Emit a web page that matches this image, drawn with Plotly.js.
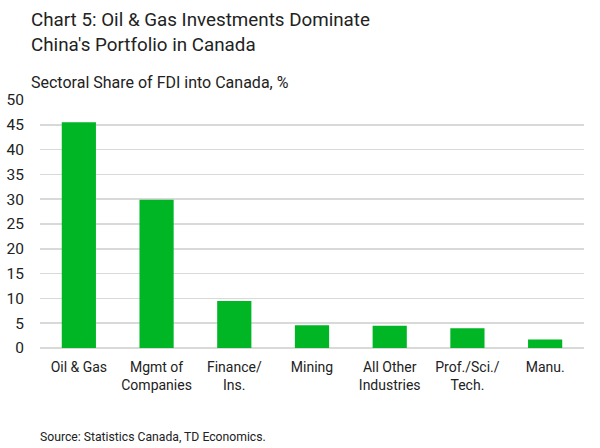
<!DOCTYPE html>
<html>
<head>
<meta charset="utf-8">
<script src="https://cdn.plot.ly/plotly-3.0.1.min.js"></script>
<style>html,body{margin:0;padding:0;background:#fff;}#chart{width:600px;height:448px;}</style>
</head>
<body>
<div id="chart"></div>
<script>
const categories = ["Oil & Gas", "Mgmt of<br>Companies", "Finance/<br>Ins.", "Mining", "All Other<br>Industries", "Prof./Sci./<br>Tech.", "Manu."];
const shares = [45.5, 29.9, 9.5, 4.6, 4.5, 4.0, 1.7];
const yTicks = [0, 5, 10, 15, 20, 25, 30, 35, 40, 45, 50];

const FONT = "Roboto, 'Noto Sans', sans-serif";
const data = [{
  type: "bar",
  x: categories,
  y: shares,
  marker: {color: "#00B624", line: {width: 0}},
  hoverinfo: "x+y"
}];
const layout = {
  width: 600, height: 448,
  margin: {l: 40, r: 16, t: 100, b: 100},
  paper_bgcolor: "#fff", plot_bgcolor: "#fff",
  bargap: 0.56,
  showlegend: false,
  font: {family: FONT, color: "#222"},
  xaxis: {
    type: "category",
    tickfont: {size: 14, color: "#222"},
    ticks: "", showgrid: false, showline: false, zeroline: false,
    ticklabelstandoff: 9,
    fixedrange: true
  },
  yaxis: {
    range: [0, 50],
    tickvals: yTicks,
    ticktext: yTicks.map(String),
    tickfont: {size: 15.5, color: "#222"},
    showgrid: true, gridcolor: "#d9d9d9", gridwidth: 1.5,
    zeroline: true, zerolinecolor: "#d9d9d9", zerolinewidth: 1.5,
    showline: false, ticks: "",
    ticklabelstandoff: 15,
    fixedrange: true
  },
  annotations: [
    {xref: "paper", yref: "paper", x: -11/544, y: 1 + 80/248, xanchor: "left", yanchor: "middle",
     text: "Chart 5: Oil & Gas Investments Dominate", showarrow: false, align: "left",
     font: {size: 18.8, color: "#222", family: FONT}},
    {xref: "paper", yref: "paper", x: -11/544, y: 1 + 55/248, xanchor: "left", yanchor: "middle",
     text: "China's Portfolio in Canada", showarrow: false, align: "left",
     font: {size: 18.8, color: "#222", family: FONT}},
    {xref: "paper", yref: "paper", x: -11/544, y: 1 + 17/248, xanchor: "left", yanchor: "middle",
     text: "Sectoral Share of FDI into Canada, %", showarrow: false, align: "left",
     font: {size: 16, color: "#222", family: FONT}},
    {xref: "paper", yref: "paper", x: -2/544, y: -89/248, xanchor: "left", yanchor: "middle",
     text: "Source: Statistics Canada, TD Economics.", showarrow: false, align: "left",
     font: {size: 12.2, color: "#222", family: FONT}}
  ]
};
Plotly.newPlot("chart", data, layout, {displayModeBar: false, staticPlot: true});
</script>
</body>
</html>
